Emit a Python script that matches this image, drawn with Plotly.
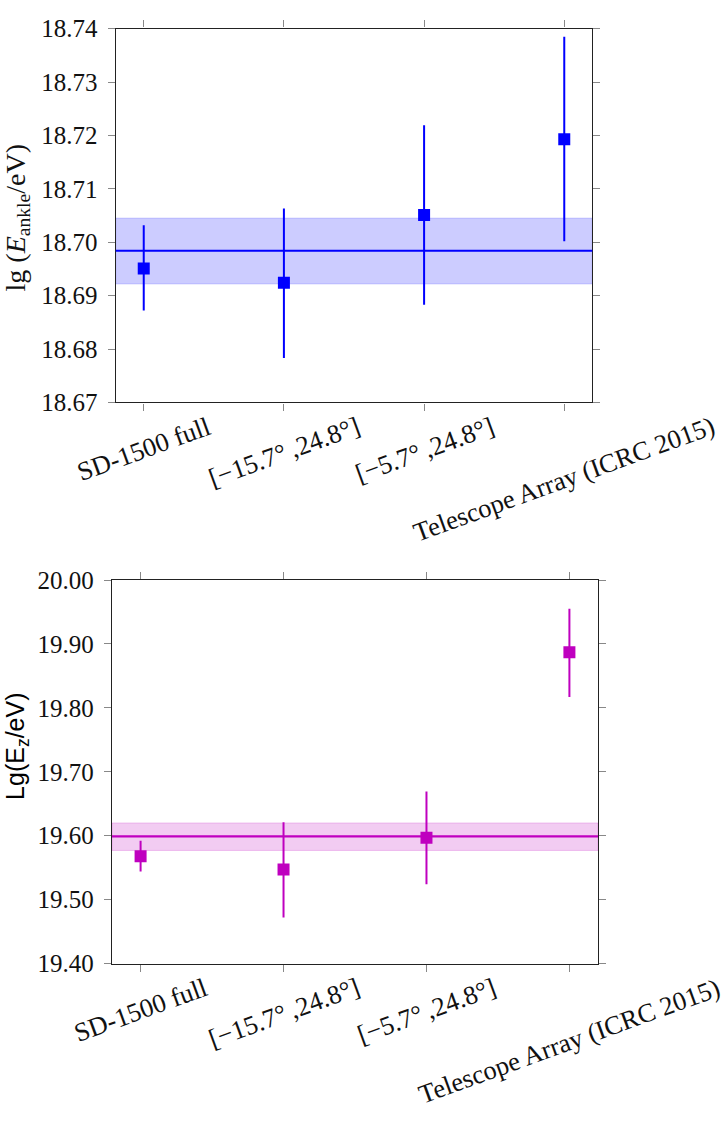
import plotly.graph_objects as go

# Data sets: ankle energy (top) and suppression energy E_z (bottom)
categories = ["SD-1500 full", "[\u221215.7\u00b0\u2009,24.8\u00b0]", "[\u22125.7\u00b0\u2009,24.8\u00b0]",
              "Telescope Array (ICRC 2015)"]

ankle_val = [18.6951, 18.6924, 18.7051, 18.7193]
ankle_err_up = [0.0081, 0.0139, 0.0168, 0.0192]
ankle_err_down = [0.0079, 0.0141, 0.0168, 0.0191]
ankle_mean = 18.6984
ankle_band = [18.6922, 18.7045]

ez_val = [19.568, 19.547, 19.597, 19.887]
ez_err_up = [0.024, 0.074, 0.072, 0.068]
ez_err_down = [0.024, 0.075, 0.073, 0.070]
ez_mean = 19.599
ez_band = [19.577, 19.620]

top_ticks = [18.67, 18.68, 18.69, 18.70, 18.71, 18.72, 18.73, 18.74]
bottom_ticks = [19.40, 19.50, 19.60, 19.70, 19.80, 19.90, 20.00]

BLUE = "#0000ff"
MAGENTA = "#bf00bf"
SERIF = "Liberation Serif, Times New Roman, serif"
SANS = "Liberation Sans, Arial, sans-serif"

W, H = 725, 1123
xpos = list(range(len(categories)))

fig = go.Figure()

fig.add_trace(go.Scatter(
    x=xpos, y=ankle_val, mode="markers", xaxis="x", yaxis="y",
    marker=dict(symbol="square", size=12, color=BLUE, line=dict(width=0)),
    error_y=dict(type="data", symmetric=False, array=ankle_err_up,
                 arrayminus=ankle_err_down, thickness=2, width=0, color=BLUE),
    showlegend=False, hoverinfo="skip"))

fig.add_trace(go.Scatter(
    x=xpos, y=ez_val, mode="markers", xaxis="x2", yaxis="y2",
    marker=dict(symbol="square", size=12, color=MAGENTA, line=dict(width=0)),
    error_y=dict(type="data", symmetric=False, array=ez_err_up,
                 arrayminus=ez_err_down, thickness=2, width=0, color=MAGENTA),
    showlegend=False, hoverinfo="skip"))

shapes = []
for xref, yref, band, mean, col, fill in [
    ("x domain", "y", ankle_band, ankle_mean, BLUE, "rgba(0,0,255,0.2)"),
    ("x2 domain", "y2", ez_band, ez_mean, MAGENTA, "rgba(191,0,191,0.2)"),
]:
    shapes.append(dict(type="rect", xref=xref, yref=yref, x0=0, x1=1,
                       y0=band[0], y1=band[1], fillcolor=fill,
                       line=dict(width=1, color=fill), layer="below"))
    shapes.append(dict(type="line", xref=xref, yref=yref, x0=0, x1=1,
                       y0=mean, y1=mean, line=dict(width=2.2, color=col)))

axis_common = dict(
    showline=True, linecolor="#222222", linewidth=1.3, mirror="allticks",
    ticks="outside", ticklen=7, tickwidth=1, tickcolor="#888888",
    showgrid=False, zeroline=False,
)

fig.update_layout(
    width=W, height=H,
    margin=dict(l=0, r=0, t=0, b=0),
    paper_bgcolor="white", plot_bgcolor="white",
    shapes=shapes,
    xaxis=dict(domain=[115.7 / W, 592.3 / W], range=[-0.2, 3.2],
               tickvals=xpos, showticklabels=False, anchor="y", **axis_common),
    yaxis=dict(domain=[1 - 399 / H, 1 - 16 / H], range=[18.67, 18.74],
               tickvals=top_ticks, ticktext=[f"{v:.2f}" for v in top_ticks],
               tickfont=dict(family=SERIF, size=25, color="#111111"),
               ticklabelstandoff=5, anchor="x", **axis_common),
    xaxis2=dict(domain=[112 / W, 598 / W], range=[-0.2, 3.2],
                tickvals=xpos, showticklabels=False, anchor="y2", **axis_common),
    yaxis2=dict(domain=[1 - 974 / H, 1 - 581 / H], range=[19.40, 20.00],
                tickvals=bottom_ticks, ticktext=[f"{v:.2f}" for v in bottom_ticks],
                tickfont=dict(family=SERIF, size=25, color="#111111"),
                ticklabelstandoff=5, anchor="x2", **axis_common),
)

annotations = []
# Category labels, rotated and centred under each tick
for xr, yr in [("x", "y domain"), ("x2", "y2 domain")]:
    for i, lab in enumerate(categories):
        annotations.append(dict(
            x=i, y=0, xref=xr, yref=yr, text=lab, showarrow=False,
            textangle=-20, xanchor="center", yanchor="top", yshift=-6,
            font=dict(family=SERIF, size=26.5, color="#111111")))

# Axis titles
annotations.append(dict(
    x=17.5 / W, y=1 - 210 / H, xref="paper", yref="paper",
    text="lg (<i>E</i><sub>ankle</sub>/eV)", showarrow=False, textangle=-90,
    xanchor="center", yanchor="middle",
    font=dict(family=SERIF, size=28, color="#111111")))
annotations.append(dict(
    x=17 / W, y=1 - 752 / H, xref="paper", yref="paper",
    text="Lg(E<sub>z</sub>/eV)", showarrow=False, textangle=-90,
    xanchor="center", yanchor="middle",
    font=dict(family=SANS, size=25, color="#000000")))

fig.update_layout(annotations=annotations)

fig.write_html("out.html")
